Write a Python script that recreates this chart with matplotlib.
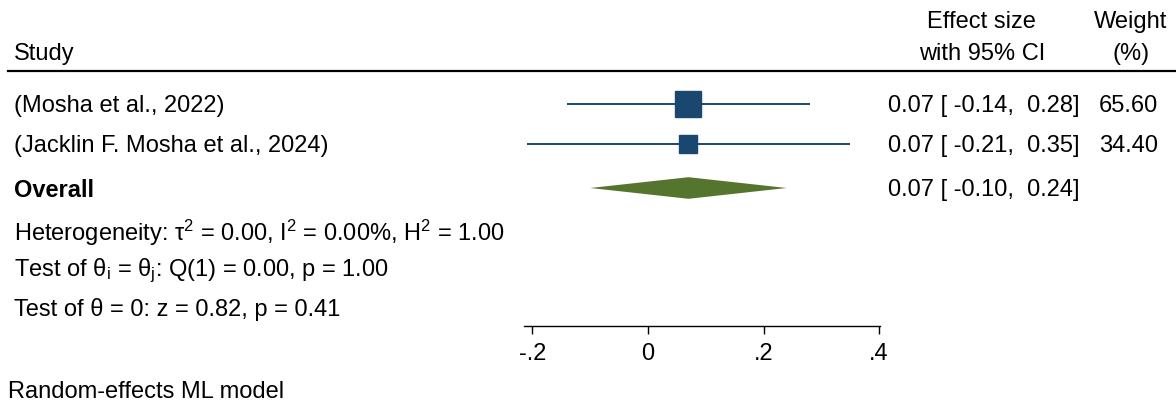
import numpy as np
import matplotlib.pyplot as plt
from matplotlib.transforms import blended_transform_factory

plt.rcParams['font.family'] = ['Liberation Sans', 'DejaVu Sans']
plt.rcParams['mathtext.fontset'] = 'custom'
plt.rcParams['mathtext.rm'] = 'Liberation Sans'
plt.rcParams['mathtext.it'] = 'Liberation Sans'

studies = ['(Mosha et al., 2022)', '(Jacklin F. Mosha et al., 2024)']
est = [0.07, 0.07]
lo = [-0.14, -0.21]
hi = [0.28, 0.35]
weights = [65.60, 34.40]
ov_est, ov_lo, ov_hi = 0.07, -0.10, 0.24
ticks = [-0.2, 0, 0.2, 0.4]
tick_labels = ['-.2', '0', '.2', '.4']
stats = ['Heterogeneity: τ$^2$ = 0.00, I$^2$ = 0.00%, H$^2$ = 1.00',
         'Test of θ$_i$ = θ$_j$: Q(1) = 0.00, p = 1.00',
         'Test of θ = 0: z = 0.82, p = 0.41']

W, H = 1176, 403
fig = plt.figure(figsize=(W / 100, H / 100), dpi=100)

# forest axes: x in effect units, y in rows (1 row = 40 px)
ax_l, ax_r = 524.4, 880.2
ax_top, ax_bot = 71, 326
ax = fig.add_axes([ax_l / W, (H - ax_bot) / H, (ax_r - ax_l) / W, (ax_bot - ax_top) / H])
ax.set_xlim(-0.214, 0.402)
ax.set_ylim(1 + (ax_bot - 104) / 40, 1 - (104 - ax_top) / 40)

rows = [1, 2]
ov_row = 3.1
stat_rows = [4.15, 5.1, 6.075]
head_rows = [-1.1, -0.3]
dy = 0.06  # text sits a touch lower than marks

navy = '#1a476f'
green = '#55752f'
fs = 17

for r, e, l, h, w in zip(rows, est, lo, hi, weights):
    ax.plot([l, h], [r, r], color=navy, lw=1.4, solid_capstyle='butt')
    ax.plot([e], [r], marker='s', color=navy, markersize=2.3 * np.sqrt(w), mec=navy)

ax.fill([ov_lo, ov_est, ov_hi, ov_est], [ov_row, ov_row - 0.27, ov_row, ov_row + 0.27],
        color=green, lw=0)

for s in ['top', 'left', 'right']:
    ax.spines[s].set_visible(False)
ax.spines['bottom'].set_linewidth(1.0)
ax.set_yticks([])
ax.set_xticks(ticks)
ax.set_xticklabels(tick_labels)
ax.tick_params(axis='x', length=6, width=1.0, pad=6, labelsize=fs)
ax.patch.set_alpha(0)

tr = blended_transform_factory(fig.transFigure, ax.transData)
px = lambda x: x / W

# headers
ax.text(px(14), head_rows[1] + dy, 'Study', transform=tr, fontsize=fs, va='center')
ax.text(px(981), head_rows[0] + dy, 'Effect size', transform=tr, fontsize=fs, va='center', ha='center')
ax.text(px(982), head_rows[1] + dy, 'with 95% CI', transform=tr, fontsize=fs, va='center', ha='center')
ax.text(px(1131), head_rows[0] + dy, 'Weight', transform=tr, fontsize=fs, va='center', ha='center')
ax.text(px(1131), head_rows[1] + dy, '(%)', transform=tr, fontsize=fs, va='center', ha='center')
line_y = 1 - (104 - ax_top) / 40
ax.plot([px(8), px(1176)], [line_y, line_y], transform=tr, color='black', lw=1.6, clip_on=False)

for r, name, e, l, h, w in zip(rows, studies, est, lo, hi, weights):
    ax.text(px(14), r + dy, name, transform=tr, fontsize=fs, va='center')
    ax.text(px(888), r + dy, f'{e:.2f} [ {l:.2f},  {h:.2f}]', transform=tr, fontsize=fs, va='center')
    ax.text(px(1158), r + dy, f'{w:.2f}', transform=tr, fontsize=fs, va='center', ha='right')

ax.text(px(14), ov_row + dy, 'Overall', transform=tr, fontsize=fs, va='center', fontweight='bold')
ax.text(px(888), ov_row + dy, f'{ov_est:.2f} [ {ov_lo:.2f},  {ov_hi:.2f}]', transform=tr,
        fontsize=fs, va='center')

for r, s in zip(stat_rows, stats):
    ax.text(px(14), r + dy, s, transform=tr, fontsize=fs, va='center')

fig.text(px(8), 1 - 392 / H, 'Random-effects ML model', fontsize=fs, va='center')

fig.savefig('out.png', dpi=100)
